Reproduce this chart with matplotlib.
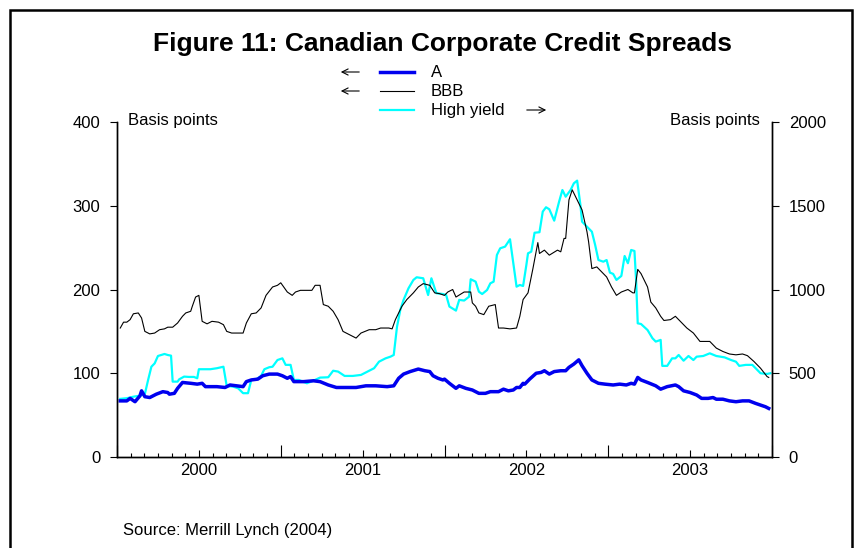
import matplotlib
matplotlib.use("Agg")
import matplotlib.pyplot as plt
from matplotlib.patches import Rectangle, FancyArrowPatch

plt.rcParams["font.family"] = ["Liberation Sans", "DejaVu Sans"]
plt.rcParams["font.size"] = 12

# --- data (decimal years; A and BBB in bp, left axis; high yield in bp, right axis) ---
a_t = [2000.02, 2000.06, 2000.08, 2000.11, 2000.14, 2000.15, 2000.17, 2000.20, 2000.24,
       2000.28, 2000.31, 2000.32, 2000.35, 2000.37, 2000.40, 2000.45, 2000.49, 2000.52,
       2000.54, 2000.61, 2000.66, 2000.69, 2000.73, 2000.77, 2000.79, 2000.82, 2000.86,
       2000.89, 2000.93, 2000.98, 2001.01, 2001.04, 2001.06, 2001.08, 2001.14, 2001.20,
       2001.24, 2001.29, 2001.34, 2001.40, 2001.46, 2001.52, 2001.58, 2001.65, 2001.69,
       2001.72, 2001.75, 2001.79, 2001.84, 2001.88, 2001.91, 2001.93, 2001.96, 2001.99,
       2002.00, 2002.03, 2002.07, 2002.09, 2002.13, 2002.17, 2002.21, 2002.25, 2002.28,
       2002.33, 2002.36, 2002.39, 2002.42, 2002.44, 2002.46, 2002.48, 2002.49, 2002.52,
       2002.56, 2002.59, 2002.61, 2002.64, 2002.67, 2002.71, 2002.74, 2002.76, 2002.79,
       2002.82, 2002.84, 2002.87, 2002.90, 2002.94, 2002.98, 2003.03, 2003.07, 2003.11,
       2003.14, 2003.16, 2003.18, 2003.20, 2003.24, 2003.29, 2003.32, 2003.36, 2003.41,
       2003.43, 2003.46, 2003.50, 2003.54, 2003.57, 2003.61, 2003.64, 2003.66, 2003.70,
       2003.74, 2003.78, 2003.82, 2003.86, 2003.90, 2003.93, 2003.96, 2003.98]
a_val = [67, 67, 70, 66, 73, 79, 72, 71, 75, 78, 77, 75, 76, 82, 89, 88, 87, 88,
         84, 84, 83, 86, 85, 84, 90, 92, 93, 97, 99, 99, 97, 94, 96, 90, 90, 91,
         90, 86, 83, 83, 83, 85, 85, 84, 85, 94, 99, 102, 105, 103, 102, 97, 94, 92,
         93, 88, 82, 85, 82, 80, 76, 76, 78, 78, 81, 79, 80, 83, 83, 88, 87, 93,
         100, 101, 103, 99, 102, 103, 103, 107, 111, 116, 109, 100, 92, 88, 87, 86, 87, 86,
         88, 87, 95, 92, 89, 85, 81, 84, 86, 84, 79, 77, 74, 70, 70, 71, 69, 69,
         67, 66, 67, 67, 64, 62, 60, 58]

bbb_t = [2000.02, 2000.04, 2000.06, 2000.08, 2000.10, 2000.13, 2000.15, 2000.17, 2000.20,
         2000.23, 2000.26, 2000.29, 2000.31, 2000.34, 2000.37, 2000.40, 2000.42, 2000.45,
         2000.46, 2000.48, 2000.50, 2000.51, 2000.52, 2000.55, 2000.58, 2000.62, 2000.65,
         2000.67, 2000.70, 2000.74, 2000.77, 2000.79, 2000.82, 2000.85, 2000.88, 2000.91,
         2000.95, 2000.98, 2001.00, 2001.04, 2001.07, 2001.09, 2001.12, 2001.19, 2001.21,
         2001.24, 2001.26, 2001.29, 2001.32, 2001.35, 2001.38, 2001.41, 2001.46, 2001.49,
         2001.54, 2001.58, 2001.61, 2001.66, 2001.68, 2001.70, 2001.74, 2001.77, 2001.81,
         2001.84, 2001.87, 2001.91, 2001.94, 2001.97, 2002.00, 2002.02, 2002.05, 2002.07,
         2002.12, 2002.16, 2002.17, 2002.19, 2002.21, 2002.24, 2002.27, 2002.31, 2002.33,
         2002.36, 2002.40, 2002.44, 2002.46, 2002.48, 2002.51, 2002.54, 2002.57, 2002.58,
         2002.61, 2002.64, 2002.69, 2002.71, 2002.73, 2002.74, 2002.76, 2002.78, 2002.81,
         2002.84, 2002.87, 2002.88, 2002.90, 2002.93, 2002.96, 2002.99, 2003.02, 2003.05,
         2003.08, 2003.12, 2003.15, 2003.16, 2003.18, 2003.20, 2003.24, 2003.26, 2003.29,
         2003.32, 2003.34, 2003.38, 2003.41, 2003.45, 2003.48, 2003.52, 2003.56, 2003.62,
         2003.66, 2003.70, 2003.74, 2003.78, 2003.82, 2003.85, 2003.89, 2003.93, 2003.97,
         2003.98]
bbb_val = [154, 161, 161, 164, 171, 172, 166, 150, 147, 148, 152, 153, 155, 155, 160, 168,
           172, 174, 180, 191, 193, 178, 162, 159, 162, 161, 158, 150, 148, 148, 148, 160,
           171, 172, 178, 193, 203, 205, 208, 197, 193, 197, 199, 199, 205, 205, 182, 180,
           174, 164, 150, 147, 142, 148, 152, 152, 154, 154, 153, 164, 180, 188, 196, 203,
           207, 205, 196, 195, 193, 197, 200, 191, 197, 197, 184, 180, 172, 170, 180, 182,
           154, 154, 153, 154, 168, 188, 196, 225, 256, 243, 247, 241, 247, 245, 261, 261,
           307, 319, 307, 295, 269, 257, 225, 227, 221, 215, 203, 193, 197, 200, 196, 196,
           224, 219, 203, 185, 178, 168, 163, 164, 168, 160, 154, 148, 138, 138, 130, 126,
           123, 122, 123, 121, 114, 106, 96, 95]

hy_t = [2000.02, 2000.06, 2000.10, 2000.14, 2000.17, 2000.19, 2000.21, 2000.23, 2000.25,
        2000.29, 2000.31, 2000.33, 2000.34, 2000.37, 2000.38, 2000.41, 2000.44, 2000.47,
        2000.49, 2000.50, 2000.53, 2000.57, 2000.61, 2000.65, 2000.66, 2000.67, 2000.71,
        2000.74, 2000.77, 2000.80, 2000.82, 2000.85, 2000.88, 2000.90, 2000.93, 2000.95,
        2000.98, 2001.01, 2001.03, 2001.06, 2001.08, 2001.11, 2001.16, 2001.20, 2001.24,
        2001.29, 2001.32, 2001.35, 2001.39, 2001.44, 2001.49, 2001.53, 2001.57, 2001.60,
        2001.64, 2001.67, 2001.69, 2001.71, 2001.73, 2001.75, 2001.78, 2001.81, 2001.83,
        2001.87, 2001.90, 2001.92, 2001.95, 2001.99, 2002.01, 2002.03, 2002.07, 2002.09,
        2002.12, 2002.15, 2002.16, 2002.19, 2002.21, 2002.23, 2002.26, 2002.28, 2002.30,
        2002.32, 2002.34, 2002.37, 2002.40, 2002.42, 2002.44, 2002.46, 2002.48, 2002.50,
        2002.51, 2002.53, 2002.55, 2002.58, 2002.60, 2002.62, 2002.64, 2002.67, 2002.70,
        2002.72, 2002.74, 2002.77, 2002.79, 2002.81, 2002.83, 2002.84, 2002.87, 2002.90,
        2002.92, 2002.94, 2002.97, 2002.99, 2003.01, 2003.03, 2003.05, 2003.08, 2003.10,
        2003.12, 2003.14, 2003.16, 2003.17, 2003.18, 2003.20, 2003.24, 2003.27, 2003.29,
        2003.32, 2003.33, 2003.36, 2003.39, 2003.41, 2003.43, 2003.46, 2003.49, 2003.52,
        2003.54, 2003.58, 2003.62, 2003.66, 2003.71, 2003.75, 2003.78, 2003.80, 2003.84,
        2003.88, 2003.93, 2003.97, 2003.99]
hy_val = [347, 351, 360, 366, 376, 460, 539, 559, 603, 615, 609, 605, 450, 450, 464, 480,
          478, 478, 470, 524, 524, 524, 530, 539, 480, 424, 420, 410, 381, 381, 460, 464,
          484, 524, 536, 539, 579, 589, 550, 550, 460, 460, 440, 456, 474, 476, 515, 510,
          484, 484, 490, 510, 530, 569, 589, 599, 609, 778, 878, 938, 1007, 1057, 1073, 1067,
          967, 1067, 978, 973, 967, 898, 874, 938, 934, 957, 1061, 1047, 987, 973, 997, 1037,
          1047, 1206, 1246, 1256, 1300, 1157, 1017, 1027, 1021, 1147, 1216, 1226, 1339, 1342,
          1465, 1491, 1479, 1411, 1525, 1594, 1554, 1594, 1634, 1650, 1505, 1405, 1375, 1345,
          1266, 1176, 1166, 1176, 1101, 1093, 1057, 1081, 1200, 1157, 1236, 1230, 1057, 798,
          794, 758, 709, 689, 699, 544, 544, 589, 589, 609, 575, 603, 579, 599, 603, 619,
          603, 595, 579, 569, 544, 550, 550, 500, 496, 500]

years = [2000, 2001, 2002, 2003]
W, H = 859, 548

fig = plt.figure(figsize=(W / 100, H / 100), dpi=100)
ax = fig.add_axes([117 / W, 1 - 457 / H, (772 - 117) / W, (457 - 122) / H])
ax2 = ax.twinx()
ax.set_zorder(ax2.get_zorder() + 1)
ax.patch.set_visible(False)

ax2.plot(hy_t, hy_val, color="#00ffff", lw=1.6)
ax.plot(bbb_t, bbb_val, color="black", lw=0.8)
ax.plot(a_t, a_val, color="#0000ee", lw=2.5)

ax.set_xlim(2000, 2004)
ax.set_ylim(0, 400)
ax2.set_ylim(0, 2000)
ax.set_yticks([0, 100, 200, 300, 400])
ax2.set_yticks([0, 500, 1000, 1500, 2000])

for a in (ax, ax2):
    a.spines["top"].set_visible(False)
    for s in a.spines.values():
        s.set_linewidth(1.0)
ax.tick_params(axis="y", direction="out", length=5, width=0.8, pad=7, labelsize=12)
ax2.tick_params(axis="y", direction="out", length=5, width=0.8, pad=7, labelsize=12)

# x axis: year boundaries long, mid-year labelled, monthly minor ticks
major = []
labels = []
for y in years + [2004]:
    major.append(y)
    labels.append("")
    if y < 2004:
        major.append(y + 0.5)
        labels.append(str(y))
ax.set_xticks(major)
ax.set_xticklabels(labels)
ax.set_xticks([2000 + m / 12 for m in range(49) if m % 6 != 0], minor=True)
ax.tick_params(axis="x", which="major", direction="in", length=9, width=0.8,
               pad=4, labelsize=12)
ax.tick_params(axis="x", which="minor", direction="in", length=3, width=0.8)
for t, lab in zip(ax.xaxis.get_major_ticks(), labels):
    if lab:
        t.tick1line.set_markersize(5)
ax2.tick_params(axis="x", which="both", length=0)

# titles and axis unit labels
fig.text(442 / W, 1 - 44 / H, "Figure 11: Canadian Corporate Credit Spreads",
         ha="center", va="center", fontsize=19, fontweight="bold")
fig.text(128 / W, 1 - 121 / H, "Basis points", ha="left", va="center")
fig.text(760 / W, 1 - 121 / H, "Basis points", ha="right", va="center")

# legend with axis arrows
leg = [("A", "#0000ee", 2.5, "left"), ("BBB", "black", 0.8, "left"),
       ("High yield", "#00ffff", 1.6, "right")]
for i, (name, col, lw, side) in enumerate(leg):
    yy = 1 - (72 + i * 19) / H
    fig.add_artist(plt.Line2D([380 / W, 414 / W], [yy, yy], color=col, lw=lw))
    fig.text(431 / W, yy, name, ha="left", va="center")
    if side == "left":
        start, end = 362, 338
    else:
        start, end = 524, 549
    fig.add_artist(FancyArrowPatch((start / W, yy), (end / W, yy),
                                   transform=fig.transFigure, arrowstyle="->",
                                   mutation_scale=11, lw=0.8, color="black"))

fig.text(123 / W, 1 - 530 / H, "Source: Merrill Lynch (2004)", ha="left",
         va="center", fontsize=12)

# outer frame
fig.add_artist(Rectangle((10 / W, -0.02), (852 - 10) / W, 1.02 - 10 / H,
                         transform=fig.transFigure, fill=False, lw=1.8,
                         edgecolor="black", clip_on=False))

fig.savefig("out.png", dpi=100)
